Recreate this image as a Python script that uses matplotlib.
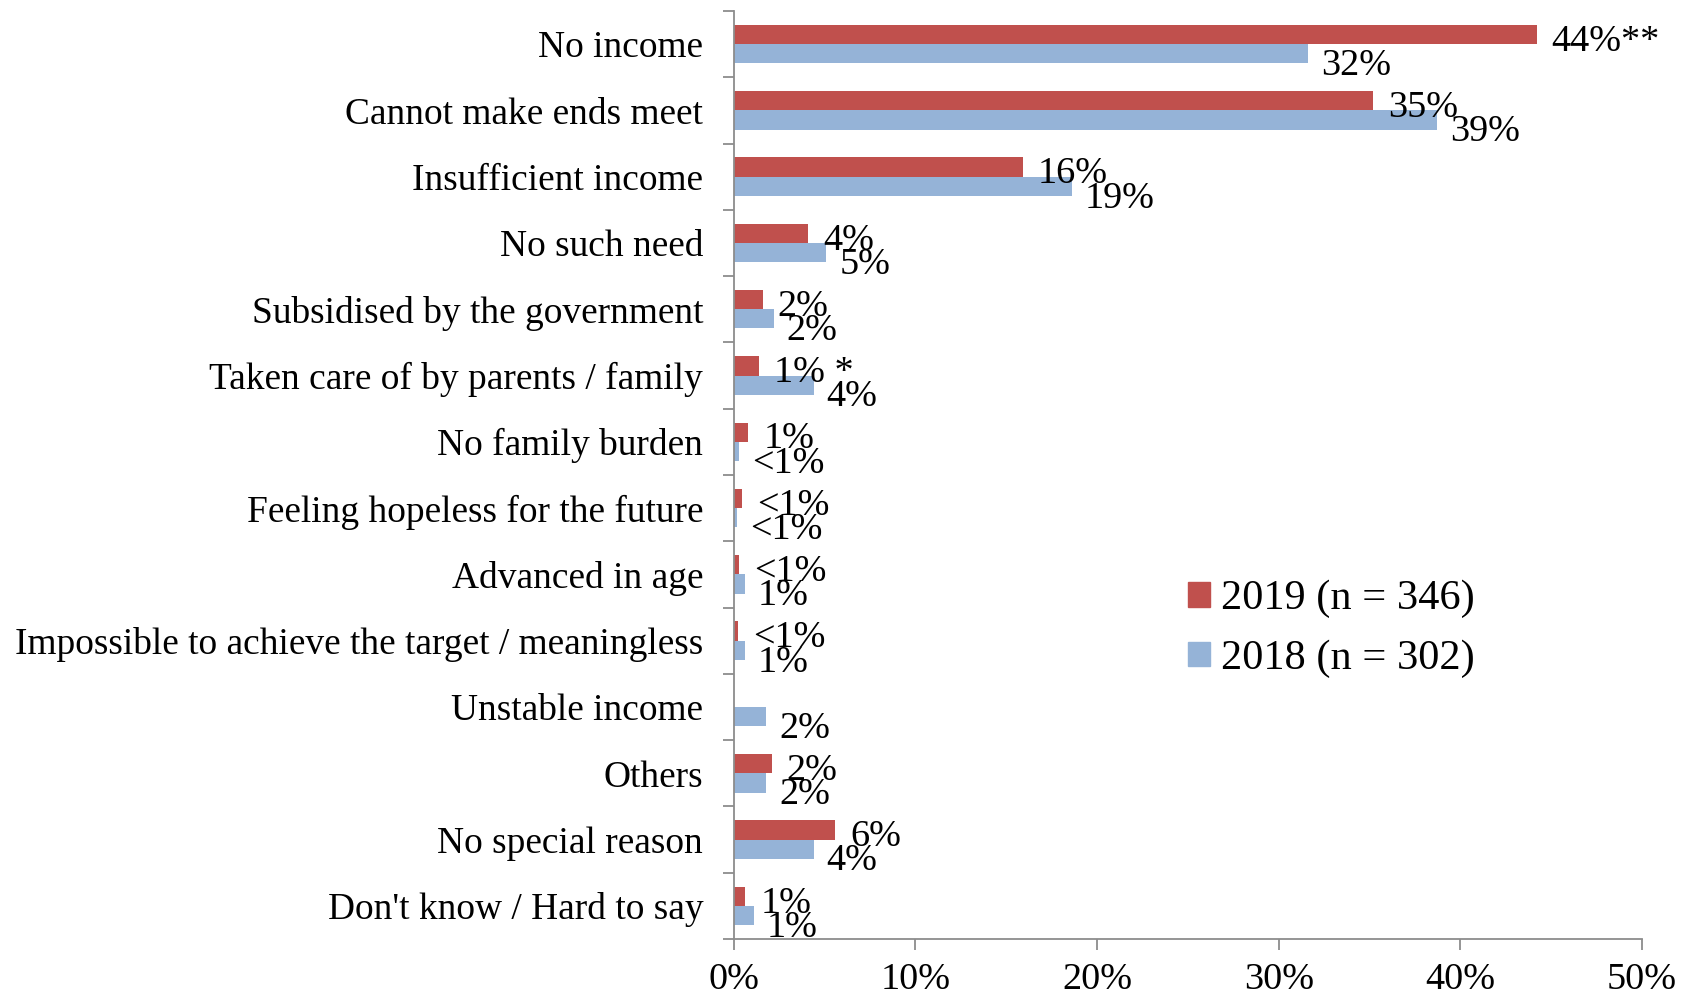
import numpy as np
import matplotlib
matplotlib.use("Agg")
from matplotlib import pyplot as plt
from matplotlib.patches import Patch

plt.rcParams['font.family'] = ['Liberation Serif', 'DejaVu Serif']

categories = ["No income", "Cannot make ends meet", "Insufficient income",
              "No such need", "Subsidised by the government",
              "Taken care of by parents / family", "No family burden",
              "Feeling hopeless for the future", "Advanced in age",
              "Impossible to achieve the target / meaningless",
              "Unstable income", "Others", "No special reason",
              "Don't know / Hard to say"]

# percentages; None = not asked that year
pct_2019 = [44.2, 35.2, 15.9, 4.1, 1.6, 1.4, 0.8, 0.45, 0.3, 0.25, None, 2.1, 5.6, 0.65]
pct_2018 = [31.6, 38.7, 18.6, 5.1, 2.2, 4.4, 0.3, 0.2, 0.6, 0.6, 1.8, 1.8, 4.4, 1.1]

# significance markers after the 2019 labels
sig_2019 = ["**", "", "", "", "", " *", "", "", "", "", "", "", "", ""]

series_labels = ["2019 (n = 346)", "2018 (n = 302)"]
red = "#C0504D"
blue = "#95B3D7"
axis_grey = "#8C8C8C"


def pct_text(v):
    if v < 0.5:
        return "<1%"
    return "%d%%" % round(v)


fig = plt.figure(figsize=(16.82, 9.96), dpi=100)
ax = fig.add_axes([0.4362, 0.0572, 0.5400, 0.9318])

n = len(categories)
y = np.arange(n)
h = 0.29

v19 = np.array([np.nan if v is None else v for v in pct_2019])
v18 = np.array(pct_2018)

ax.barh(y - h / 2, np.nan_to_num(v19), height=h, color=red, edgecolor="none")
ax.barh(y + h / 2, v18, height=h, color=blue, edgecolor="none")

fs = 27.5
for i in range(n):
    if not np.isnan(v19[i]):
        ax.annotate(pct_text(v19[i]) + sig_2019[i], (v19[i], y[i] - h / 2),
                    xytext=(15, -7), textcoords="offset pixels",
                    ha="left", va="center", fontsize=fs)
    ax.annotate(pct_text(v18[i]), (v18[i], y[i] + h / 2),
                xytext=(13, -12), textcoords="offset pixels",
                ha="left", va="center", fontsize=fs)

ax.set_xlim(0, 50)
ax.set_ylim(n - 0.5, -0.5)

ax.set_xticks(np.arange(0, 51, 10))
ax.set_xticklabels(["%d%%" % t for t in range(0, 51, 10)], fontsize=fs)

# tick marks between categories, labels at category centres
ax.set_yticks(np.arange(-0.5, n, 1.0))
ax.set_yticklabels([])
ax.set_yticks(y, minor=True)
ax.set_yticklabels(categories, minor=True, fontsize=26.9)
ax.tick_params(axis="y", which="minor", length=0, pad=22)
ax.tick_params(axis="y", which="major", length=8, width=1.3, color=axis_grey, direction="out")
ax.tick_params(axis="x", length=8, width=1.3, color=axis_grey, direction="out", pad=9)

for side in ["top", "right"]:
    ax.spines[side].set_visible(False)
for side in ["left", "bottom"]:
    ax.spines[side].set_color(axis_grey)
    ax.spines[side].set_linewidth(1.3)

handles = [Patch(color=red), Patch(color=blue)]
ax.legend(handles, series_labels, loc="center left", bbox_to_anchor=(0.5, 0.334),
          frameon=False, fontsize=30.5, handlelength=0.52, handleheight=0.52,
          handletextpad=0.27, labelspacing=0.5, borderpad=0, borderaxespad=0)

fig.savefig("out.png", dpi=100)
